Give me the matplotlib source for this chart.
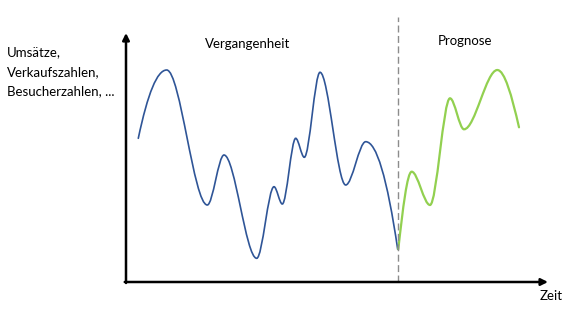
import numpy as np
import matplotlib
matplotlib.use("Agg")
import matplotlib.pyplot as plt
from matplotlib.path import Path
from matplotlib.patches import PathPatch

# values (time units from origin, arbitrary value units)
past_time = [12.3, 40.7, 81.3, 98.0, 130.7, 148.0, 156.3, 169.7, 178.3, 194.0, 219.7, 239.7, 271.7]
past_value = [143.7, 212.0, 77.0, 127.0, 23.7, 95.3, 78.0, 143.7, 124.7, 209.7, 97.0, 140.3, 32.7]

forecast_time = [272.3, 285.7, 304.0, 324.0, 338.0, 371.3, 393.0]
forecast_value = [32.7, 110.3, 77.0, 183.7, 152.7, 212.0, 154.7]

split_time = 272.0

y_label_lines = ["Umsätze,", "Verkaufszahlen,", "Besucherzahlen, ..."]
past_label = "Vergangenheit"
forecast_label = "Prognose"
x_label = "Zeit"

W, H = 579, 324


def smooth_path(x, y):
    # shape preserving cubic (pchip-like tangents), drawn as bezier segments
    x = np.asarray(x, float)
    y = np.asarray(y, float)
    n = len(x)
    h = np.diff(x)
    d = np.diff(y) / h
    m = np.zeros(n)
    for k in range(1, n - 1):
        if d[k - 1] * d[k] > 0:
            w1 = 2 * h[k] + h[k - 1]
            w2 = h[k] + 2 * h[k - 1]
            m[k] = (w1 + w2) / (w1 / d[k - 1] + w2 / d[k])

    def end_slope(h0, h1, d0, d1):
        s = ((2 * h0 + h1) * d0 - h0 * d1) / (h0 + h1)
        if np.sign(s) != np.sign(d0):
            return 0.0
        if np.sign(d0) != np.sign(d1) and abs(s) > 3 * abs(d0):
            return 3 * d0
        return s

    m[0] = end_slope(h[0], h[1], d[0], d[1])
    m[-1] = end_slope(h[-1], h[-2], d[-1], d[-2])

    verts = [(x[0], y[0])]
    codes = [Path.MOVETO]
    for k in range(n - 1):
        t = h[k] / 3
        verts += [(x[k] + t, y[k] + m[k] * t),
                  (x[k + 1] - t, y[k + 1] - m[k + 1] * t),
                  (x[k + 1], y[k + 1])]
        codes += [Path.CURVE4] * 3
    return Path(verts, codes)


plt.rcParams["font.family"] = ["Lato", "DejaVu Sans"]

fig = plt.figure(figsize=(W / 100, H / 100), dpi=100)
ox, oy = 126, 282
tip_x, tip_y = 548, 33
ax = fig.add_axes([ox / W, (H - oy) / H, (tip_x - ox) / W, (oy - tip_y) / H])
ax.set_xlim(0, tip_x - ox)
ax.set_ylim(0, oy - tip_y)
ax.axis("off")

ax.add_patch(PathPatch(smooth_path(past_time, past_value), fill=False,
                       edgecolor="#2F5597", lw=1.2, capstyle="round"))
ax.add_patch(PathPatch(smooth_path(forecast_time, forecast_value), fill=False,
                       edgecolor="#92D050", lw=1.6, capstyle="round"))

ax.plot([split_time, split_time], [0, 1.065 * (oy - tip_y)], color="#8C8C8C",
        lw=1.0, dashes=(5, 2.5), clip_on=False)

arrow = dict(arrowstyle="-|>", color="black", lw=1.8, mutation_scale=10,
             shrinkA=0, shrinkB=0)
ax.annotate("", xy=(0, 1), xytext=(0, -0.004), xycoords="axes fraction", arrowprops=arrow)
ax.annotate("", xy=(1, 0), xytext=(-0.003, 0), xycoords="axes fraction", arrowprops=arrow)

fs = 9.5
fig.text(248 / W, 1 - 43.5 / H, past_label, ha="center", va="center", fontsize=fs)
fig.text(465 / W, 1 - 41 / H, forecast_label, ha="center", va="center", fontsize=fs)
fig.text(551 / W, 1 - 296 / H, x_label, ha="center", va="center", fontsize=fs)
for i, line in enumerate(y_label_lines):
    fig.text(7 / W, 1 - (52 + 19.8 * i) / H, line, ha="left", va="center", fontsize=fs)

fig.savefig("out.png", dpi=100, facecolor="white")
